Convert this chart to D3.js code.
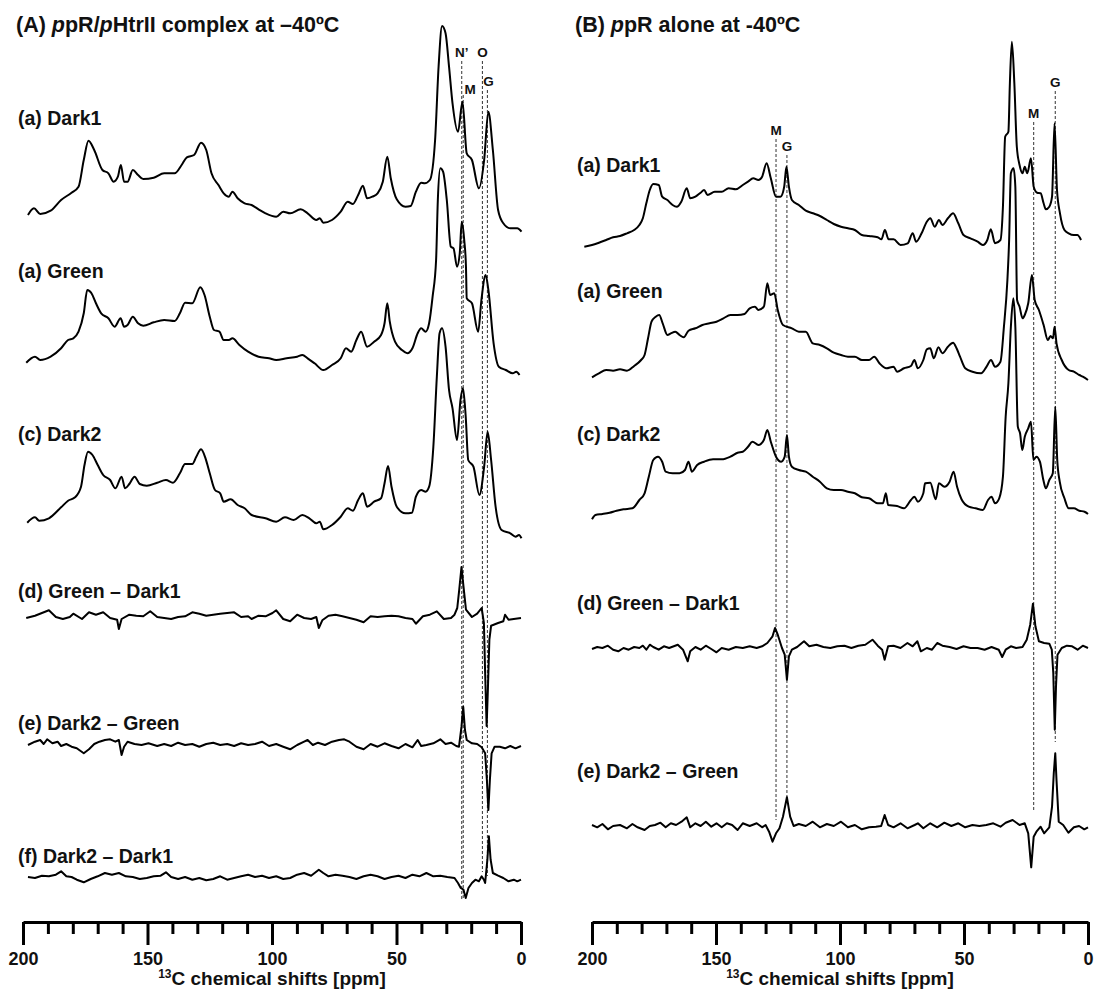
<!DOCTYPE html>
<html><head><meta charset="utf-8">
<script src="https://cdn.jsdelivr.net/npm/d3@7"></script>
<style>
body{margin:0;background:#fff;}
svg{display:block;font-family:"Liberation Sans",Arial,Helvetica,sans-serif;}
</style></head><body>
<svg id="chart" width="1094" height="996"></svg>
<script>
// ---------- DATA: [ppm, intensity] (intensity in arbitrary units, 0 = trace baseline) ----------
const axisTicksMajor = [200, 150, 100, 50, 0];
const axisTicksMinor = [190,180,170,160,140,130,120,110,90,80,70,60,40,30,20,10];

// (A) ppR/pHtrII complex
const complexDark1 = [[198.0,17],[195.6,23.7],[193.1,18],[188.9,21.3],[184.7,32],[180.5,39.3],[177.7,45.3],[175.6,72],[173.7,91.3],[171.4,82],[168.1,62],[165.7,58.7],[163.6,50.3],[161.9,55.3],[160.7,67],[159.4,50.3],[158.0,50.3],[155.9,62],[153.8,57],[151.7,53],[147.5,54.3],[143.3,58.7],[139.1,58.7],[136.3,67],[134.2,74.7],[131.3,77],[128.5,89.3],[126.4,82],[124.3,58.7],[121.5,47],[119.4,38.7],[117.3,35.3],[115.9,40.3],[113.8,33.7],[111.0,28.7],[108.2,27],[105.4,22.7],[102.6,18.7],[98.3,15.3],[95.5,20.3],[92.7,18.7],[88.5,22.7],[85.7,18.7],[82.2,12],[80.8,13.7],[79.4,9.3],[75.9,12],[72.4,20.3],[69.6,30.3],[67.5,28],[65.4,37],[63.5,46.3],[61.8,33.7],[59.7,35.3],[57.6,38.7],[55.5,50.3],[53.7,75.3],[52.3,53.7],[49.9,32.7],[46.4,25.3],[44.3,26],[42.2,40.3],[40.1,49.3],[38.7,48.7],[36.6,52],[34.5,92],[33.1,165.3],[31.7,206],[30.3,198.7],[28.9,165.3],[27.5,128.7],[25.3,100.3],[23.5,130.3],[21.8,78.7],[19.7,72],[16.9,43.7],[14.8,72],[13.1,120.3],[11.3,82],[9.2,22],[7.1,8.7],[4.3,3.7],[1.5,3.7],[-0.2,0.3]];
const complexGreen = [[198.7,12.3],[195.2,18.3],[193.1,15],[188.9,18.3],[184.7,26.7],[181.9,35],[179.8,36.7],[177.7,43.3],[175.6,61.7],[174.2,85],[172.5,81.7],[170.7,71.7],[168.6,61.7],[165.7,56.7],[163.2,48.3],[160.8,56.7],[159.4,48.3],[158.0,50],[155.9,58.3],[153.8,51.7],[151.7,49.3],[147.5,52.7],[143.3,55],[139.1,54],[137.0,61.7],[134.9,72.3],[132.0,71.7],[128.8,87.7],[127.1,80],[125.0,58.3],[123.3,45],[121.1,43.3],[119.4,35],[117.3,35],[115.9,36.7],[113.1,30],[109.6,23.3],[105.4,18.3],[101.2,16.7],[98.3,15],[94.1,16.7],[89.9,18.3],[87.8,20],[85.7,16.7],[82.9,11.7],[79.4,5],[75.9,10],[72.4,16.7],[70.3,26.7],[68.2,23.3],[66.1,35],[64.2,43.3],[61.8,28.3],[59.0,33.3],[56.2,40],[54.8,51.7],[53.7,71.7],[52.7,53.3],[50.6,33.3],[47.8,25],[45.7,21.7],[43.6,26.7],[41.5,41.7],[40.1,46.7],[38.3,43.3],[36.9,51.7],[35.5,78.3],[34.1,115],[33.4,175],[32.4,206.7],[31.3,203.3],[29.8,175],[28.2,128.3],[27.1,126.7],[25.7,108.3],[24.6,121.7],[23.8,153.3],[22.8,135],[22.1,108.3],[21.8,76.7],[19.7,71.7],[17.2,43.3],[15.9,75],[14.2,100],[13.1,85],[11.0,31.7],[8.9,8.3],[6.1,5],[3.3,1.7],[1.9,3.3],[0.6,0]];
const complexDark2 = [[198.3,14.3],[195.2,19.7],[193.5,16.3],[189.6,18.7],[184.7,29.7],[181.9,36.3],[179.1,39.7],[176.7,50.3],[175.3,72],[173.9,85.3],[172.1,82],[170.0,72],[167.8,62],[165.0,57],[162.9,48.7],[160.4,60.3],[159.0,48.7],[157.3,53],[155.2,60.3],[153.1,53],[150.3,51.3],[146.1,54.3],[142.6,57],[139.8,54.3],[137.0,63.7],[134.9,73],[132.0,73],[130.4,80.3],[128.5,87.7],[126.7,78.7],[125.0,63.7],[122.9,47],[120.8,43.7],[119.4,35.3],[116.6,37.7],[113.8,32],[111.0,28.7],[108.2,22],[102.6,18.7],[98.3,15.3],[94.8,19.7],[91.3,17],[87.8,22],[85.0,18.7],[82.2,13.7],[80.8,15.3],[79.4,7.7],[75.9,12],[72.4,20.3],[69.6,28.7],[67.5,26.3],[65.4,37],[63.5,43.7],[61.8,30.3],[59.0,35.3],[56.2,38.7],[54.8,53.7],[53.4,71],[52.0,50.3],[49.9,30.3],[46.4,23.7],[43.8,24.3],[42.2,40.3],[40.1,47],[38.3,45.3],[36.9,50.3],[35.2,90.3],[33.8,160.3],[32.7,203.7],[31.7,208.7],[30.3,190.3],[28.9,147],[27.5,128.7],[25.7,97],[24.3,137],[23.3,148.7],[22.2,120.3],[21.2,77],[19.1,70.3],[16.7,42],[14.8,70.3],[13.4,105.3],[12.0,77],[10.2,30.3],[7.8,7],[4.3,3.7],[2.2,0.3],[0.8,2],[-0.2,-1.3]];
const complexGreenMinusDark1 = [[198.7,0],[195.2,2.3],[192.4,5],[189.6,7.7],[186.8,1],[184.0,-1],[181.2,1],[179.8,4.3],[176.3,-1],[173.5,5.7],[170.7,3.3],[167.8,5.7],[165.0,0],[162.2,-1.7],[161.5,-11],[160.4,-1],[157.3,3.3],[154.5,2.3],[151.7,1.7],[148.9,6.7],[146.1,1],[143.3,0],[140.5,-1],[137.7,1],[134.9,1.7],[132.0,5.7],[129.2,4.3],[126.4,2.3],[123.6,3.3],[120.8,4.3],[118.0,5],[115.2,5.7],[112.4,1],[109.6,1.7],[108.2,-1],[105.4,2.3],[102.6,1.7],[99.8,5],[98.3,7.7],[95.5,-1],[92.7,-3.3],[89.9,3.3],[87.1,0],[84.3,-1],[82.2,1],[81.2,-10],[79.8,-2.3],[77.3,2.3],[74.5,3.3],[71.7,1.7],[68.9,0],[66.1,-1.7],[63.2,-4.3],[60.4,1.7],[57.6,1],[54.8,1.7],[52.0,2.3],[49.2,1.7],[46.4,0],[43.6,-1],[42.2,-5.7],[39.4,1.7],[36.6,3.3],[33.8,6.7],[31.0,-1],[28.1,0],[26.7,3.3],[25.6,10],[24.8,28.3],[23.9,51],[23.1,31.7],[22.1,8.3],[19.7,1],[17.6,4.3],[15.8,10],[14.9,-5],[14.4,-55],[13.8,-108],[13.3,-71.7],[12.7,-21.7],[12.0,-7.7],[9.2,-5],[7.1,-3.3],[6.4,3.3],[5.0,-1.7],[2.9,-1],[0.0,0]];
const complexDark2MinusGreen = [[198.0,0],[195.2,3.3],[193.1,5],[191.7,1],[190.3,5.7],[188.2,1.7],[186.1,3.3],[184.7,-1],[182.6,1],[180.5,-1.7],[178.4,-3.3],[175.6,-8.3],[173.5,-4.3],[171.4,1],[169.3,3.3],[167.1,5],[165.0,5.7],[162.9,3.3],[161.5,5],[160.4,-10],[159.4,-1.7],[158.0,3.3],[155.2,1],[152.4,0],[149.6,1.7],[146.1,-1],[143.3,1],[140.5,-1],[137.7,2.3],[134.9,0],[132.0,1],[129.2,-1.7],[126.4,1],[123.6,2.3],[120.8,0],[118.0,1],[115.2,-1],[112.4,1.7],[109.6,0],[106.8,1],[104.0,3.3],[101.2,-1],[98.3,1],[95.5,-1.7],[92.7,-4.3],[89.9,0],[87.1,3.3],[85.7,5],[83.6,0],[81.5,2.3],[78.7,0],[75.9,3.3],[73.1,5],[71.0,5.7],[68.9,3.3],[66.1,-1.7],[63.2,-4.3],[60.4,1],[57.6,-1.7],[54.8,1.7],[52.0,-1],[49.2,-3.3],[46.4,1],[43.6,-2.3],[41.5,5],[40.1,-1],[38.0,0],[35.2,1.7],[32.4,5.7],[30.3,1],[28.1,2.3],[26.0,-1],[24.9,-1.7],[23.9,18.3],[23.2,38.3],[22.5,15],[21.8,5],[19.7,1.7],[17.6,1],[15.8,-2.3],[14.4,-8.3],[13.7,-35],[13.1,-65],[12.5,-35],[11.8,-8.3],[10.6,-1.7],[8.5,-1.7],[6.4,-3.3],[4.3,-1],[2.2,-3.3],[0.0,-1]];
const complexDark2MinusDark1 = [[198.0,1],[195.2,0],[192.4,2.3],[189.6,1.7],[186.8,3.3],[184.7,6.7],[182.6,1.7],[180.5,1],[178.4,-1.7],[175.6,-4.3],[172.8,-1],[170.0,1.7],[167.1,5],[164.3,3.3],[161.5,5],[158.7,1.7],[155.9,1],[153.1,-1],[150.3,0],[147.5,1.7],[144.7,2.3],[142.6,5.7],[140.5,1],[137.7,-1],[134.9,1],[132.0,-1.7],[129.2,0],[126.4,-2.3],[123.6,-1],[120.8,1.7],[118.0,-1.7],[115.2,0],[112.4,1.7],[109.6,3.3],[106.8,1],[104.0,2.3],[101.2,0],[98.3,1.7],[95.5,-1],[92.7,0],[89.9,3.3],[87.1,5],[84.3,2.3],[81.2,8.3],[79.4,5],[77.3,1.7],[74.5,3.3],[71.7,2.3],[68.9,1],[66.1,-1],[63.2,1.7],[60.4,3.3],[57.6,1.7],[54.8,-1],[52.0,1],[49.2,2.3],[46.4,0],[43.6,3.3],[40.8,1.7],[38.0,5],[35.2,1.7],[32.4,2.3],[29.6,1],[26.7,0],[25.3,-5],[24.2,-10],[23.1,-11.7],[22.2,-20],[21.1,-10],[19.7,-5],[18.3,-1.7],[16.9,-3.3],[15.8,1.7],[14.9,-1.7],[14.4,-5],[13.5,18.3],[12.9,41.7],[12.2,18.3],[11.3,5],[9.2,2.3],[7.1,0],[5.0,-3.3],[2.9,-1.7],[1.5,-3.3],[0.0,-1.7]];

// (B) ppR alone
const aloneDark1 = [[203.1,-6.7],[200.0,-5],[197.2,-2.7],[194.3,0],[191.5,2.7],[188.7,4],[185.9,6.7],[183.0,10],[180.9,15],[179.5,21.7],[178.1,36.7],[176.7,50],[175.3,56],[173.1,55],[171.7,43.3],[169.6,40],[167.5,35],[165.8,33.3],[164.0,38.3],[161.8,51.7],[160.4,41.7],[158.3,43.3],[156.2,47.3],[154.8,50],[153.4,45],[150.5,48.3],[147.7,48.3],[144.9,51.7],[142.0,50.7],[139.2,55],[137.1,58.3],[135.0,61.7],[132.9,60],[131.4,63.3],[129.6,76.7],[127.9,61.7],[125.8,43.3],[124.0,43.3],[122.5,53.3],[121.6,73.3],[120.6,53.3],[119.4,40],[116.6,35],[113.8,29.3],[110.9,26.7],[108.1,24],[105.3,20],[102.5,16],[99.6,13.3],[96.8,11.7],[94.0,10],[91.2,5],[88.3,4],[84.8,2.7],[83.3,0.7],[81.9,10],[80.4,0.7],[78.4,0.7],[75.6,-5],[72.7,-3.3],[70.7,6.7],[69.3,-1.7],[67.1,6.7],[65.0,18.3],[63.6,21.7],[61.8,13.3],[60.1,20],[58.7,15],[56.5,21.7],[54.4,26.7],[52.3,16.7],[50.2,5],[47.4,1.7],[44.5,-1.7],[42.4,-5],[40.6,0],[39.2,10.7],[37.5,-3.3],[35.3,0],[34.3,33.3],[33.4,103.3],[32.1,108.3],[31.5,156.7],[30.7,198.3],[29.7,156.7],[28.7,93.3],[27.6,75],[26.4,66.7],[25.5,73.3],[24.5,66.7],[23.0,81.7],[21.9,53.3],[20.5,47.3],[19.1,46.7],[17.9,36.7],[17.0,30.7],[15.6,33.3],[14.5,43.3],[13.5,116.7],[12.5,50],[11.3,26.7],[9.5,10],[7.8,6.7],[5.7,5],[4.3,5],[2.8,0]];
const aloneGreen = [[200.0,2.7],[197.2,6.7],[194.3,10],[191.5,9.3],[188.7,10.7],[185.9,9.3],[183.0,14],[180.2,20],[178.8,25],[177.4,41.7],[176.0,58.3],[174.3,63.3],[172.9,65],[171.5,56.7],[169.6,45],[168.2,46.7],[166.4,48.3],[164.7,45],[163.0,42.7],[161.1,49.3],[158.3,51.7],[155.5,55],[152.6,56.7],[149.8,58.3],[147.0,61.7],[144.2,65],[141.3,65],[138.5,66],[136.4,71.7],[134.3,73.3],[132.9,70],[130.7,73.3],[129.3,96.7],[128.2,85],[126.5,86.7],[125.1,70],[123.0,55],[119.4,51.7],[116.6,48.3],[113.8,48.3],[111.0,36.7],[108.1,35],[105.3,31.7],[102.5,27.3],[99.6,25],[96.8,23.3],[94.0,23.3],[91.2,20],[88.3,20],[86.2,23.3],[84.1,16.7],[81.3,11.7],[78.4,13.3],[77.0,8.3],[74.2,11.7],[71.4,14],[70.0,20],[68.6,11.7],[66.4,20],[65.0,30.7],[63.6,31.7],[62.2,21.7],[60.3,32.7],[58.7,26.7],[56.5,33.3],[54.4,37.3],[53.0,31.7],[51.6,23.3],[49.5,11.7],[46.6,8.3],[43.1,6.7],[40.9,13.3],[39.1,20],[37.5,13.3],[35.3,18.3],[33.9,53.3],[32.5,100],[31.8,140],[31.1,206.7],[30.0,211.7],[29.3,193.3],[28.6,80],[27.6,73.3],[26.4,61.7],[25.5,65],[24.1,76.7],[22.6,105],[21.5,80],[19.8,70],[17.9,55],[16.2,40],[15.1,44],[14.1,41.7],[13.5,53.3],[12.7,36.7],[10.6,20],[7.8,10],[5.7,8.3],[3.5,5],[2.1,3.3],[0,0]];
const aloneDark2 = [[200.0,-5.3],[198.6,-1],[195.8,0],[192.9,1.3],[190.1,3.3],[187.3,4.7],[183.7,5.7],[180.9,14],[178.8,20.7],[177.1,37.3],[175.3,54],[173.4,57.3],[171.7,52.3],[170.3,42.3],[167.5,40.7],[164.7,40.7],[162.5,44],[161.1,52.3],[159.7,42.3],[157.6,49],[154.8,52.3],[151.2,54.7],[147.7,54.7],[144.2,57.3],[141.3,61.3],[139.2,62.3],[137.1,67.3],[135.3,72.3],[132.9,69],[130.7,74],[129.3,84],[127.9,72.3],[125.8,57.3],[123.7,52.3],[122.3,57.3],[121.4,79],[120.6,57.3],[119.4,47.3],[116.6,44],[113.8,42.3],[111.0,37.3],[108.1,32.3],[105.3,25.7],[102.5,24],[99.6,24],[96.8,22.3],[94.0,20.7],[91.2,16.7],[88.3,15.7],[84.8,10.7],[82.7,10.7],[81.5,20.7],[80.6,9],[77.0,8],[74.2,5.7],[71.4,14],[70.0,17.3],[68.6,12.3],[66.4,20.7],[65.7,30.7],[63.6,31.3],[61.4,14.7],[60.1,30.7],[57.9,27.3],[55.8,32.3],[54.2,42.3],[52.8,27.3],[51.0,14.7],[48.1,7.3],[45.3,5.7],[42.4,4],[40.3,14],[38.9,17.3],[37.5,10.7],[35.8,15.7],[34.3,37.3],[33.2,97.3],[32.1,130.7],[31.1,187.3],[30.1,215.7],[29.3,187.3],[28.3,87.3],[27.4,80.7],[26.5,64],[25.5,77.3],[24.1,85.7],[23.0,92.3],[22.0,54],[20.8,57.3],[19.4,52.3],[18.0,34],[17.0,25.7],[15.6,34],[14.2,40.7],[13.2,107.3],[12.4,54],[11.4,32.3],[9.5,15.7],[7.8,5.7],[5.7,5.7],[3.5,3.3],[1.4,2.3],[0,0]];
const aloneGreenMinusDark1 = [[200.0,-1],[197.9,1],[195.8,0],[193.6,2.3],[191.5,-1.7],[189.4,-3.3],[187.3,0],[185.2,-1.7],[183.0,1],[180.9,0],[179.5,2.3],[178.1,-1.7],[176.7,3.3],[175.3,1],[173.1,-1.7],[171.0,1.7],[168.9,0],[165.4,3.3],[163.3,-1.7],[161.4,-13.3],[160.4,-3.3],[158.3,1],[156.2,-1.7],[154.1,2.3],[151.9,-1],[149.8,-4.3],[147.7,0],[144.9,-1.7],[142.0,1],[139.2,0],[136.4,1.7],[133.6,0],[131.4,1.7],[129.3,5],[127.2,11.7],[126.2,20],[125.1,13.3],[123.4,0],[122.3,-6.7],[121.4,-31.7],[120.6,-8.3],[119.4,-1.7],[117.3,1],[114.5,6.7],[112.4,1.7],[109.5,3.3],[106.7,1],[103.9,0],[101.1,1.7],[98.2,2.3],[95.4,0],[92.6,2.3],[89.8,3.3],[86.9,8.3],[84.8,2.3],[83.0,-1.7],[82.0,-11.7],[80.6,1.7],[78.4,2.3],[75.6,0],[72.8,5],[70.7,1.7],[68.8,6.7],[67.4,-3.3],[65.0,0],[62.9,-1.7],[60.8,5],[58.7,2.3],[55.8,1],[53.0,-1],[50.2,1.7],[47.4,0],[44.5,0],[41.7,-1.7],[38.9,1],[36.0,-1.7],[34.6,-9],[33.2,-1.7],[31.1,1.7],[29.0,0],[26.4,1],[24.7,8.3],[23.3,23.3],[22.2,44.3],[21.2,21.7],[19.8,6.7],[17.7,5],[15.6,4.3],[14.6,-1.7],[14.0,-25],[13.4,-81.7],[12.9,-38.3],[12.3,-6.7],[10.6,0],[8.5,2.3],[6.4,1.7],[4.2,-1.7],[2.1,2.3],[0.0,0]];
const aloneDark2MinusGreen = [[200.0,1],[197.9,-1.3],[195.8,2],[193.6,-3.3],[191.5,0],[188.7,1],[185.9,-2.3],[183.7,2],[181.6,-1.3],[178.8,-4],[176.7,0],[174.6,1],[172.4,3.3],[170.3,-1.3],[168.2,2.7],[166.1,1],[163.9,4.3],[161.8,8.7],[160.4,-1.3],[158.3,2.7],[156.2,0],[154.1,4.3],[151.9,-0.7],[149.8,2.7],[147.7,-1.3],[145.6,2.7],[143.5,1],[141.3,-4],[139.2,2.7],[136.4,0],[133.6,2.7],[131.4,-1.3],[130.0,1],[128.6,-5.7],[127.2,-15.7],[125.8,-7.3],[124.4,-2.3],[123.0,9.3],[121.4,28.7],[120.1,9.3],[118.7,0],[116.6,2],[113.8,0],[111.0,4.3],[108.1,-1.3],[105.3,2],[102.5,0],[99.6,4.3],[96.8,-1.3],[94.0,1],[91.2,-3.3],[88.3,-1.3],[85.5,-0.7],[83.4,0],[82.0,11],[80.6,1],[78.4,-1.3],[75.6,2.7],[72.8,-2.3],[69.9,1],[68.6,2.7],[66.4,-2.3],[63.6,2.7],[60.8,-1.3],[57.9,3.3],[55.1,0],[52.3,2.7],[49.5,-1.3],[46.6,1],[43.8,0],[41.0,1],[38.2,2.7],[35.3,-0.7],[33.2,3.3],[30.4,6],[27.6,1],[25.5,2.7],[24.1,-7.3],[22.9,-41.3],[21.9,-10.7],[20.8,-5.7],[19.1,-0.7],[17.7,-7.3],[15.6,-1.3],[14.5,19.3],[13.8,52.7],[13.2,72.7],[12.7,46],[11.8,4.3],[10.0,1],[7.9,-6.7],[5.7,-1.3],[3.6,0],[1.5,-3.3],[0.0,-1.3]];

// Assignment marker positions (ppm)
const complexMarkers = [["N’",23.8],["M",23.2],["O",15.5],["G",13.5]];
const aloneMarkers = [["M",125.8],["G",121.4],["M",21.9],["G",13.2]];

// ---------- LAYOUT ----------
const svg = d3.select("#chart");
const FONT = '"Liberation Sans",Arial,Helvetica,sans-serif';
const AXIS_Y = 922;

const panels = [
  {
    range:[23,521], titleX:16, titleParts:[["(A) ",false],["p",true],["pR/",false],["p",true],["HtrII complex at –40ºC",false]],
    traces:[
      {data:complexDark1, base:232, label:"(a) Dark1", ly:125, diff:false},
      {data:complexGreen, base:375, label:"(a) Green", ly:278, diff:false},
      {data:complexDark2, base:537, label:"(c) Dark2", ly:441, diff:false},
      {data:complexGreenMinusDark1, base:618, label:"(d) Green – Dark1", ly:598, diff:true},
      {data:complexDark2MinusGreen, base:745, label:"(e) Dark2 – Green", ly:730, diff:true},
      {data:complexDark2MinusDark1, base:878, label:"(f) Dark2 – Dark1", ly:863, diff:true}
    ],
    labelX:18,
    markers:[
      {m:complexMarkers[0], top:61, bottom:900, lx:0, ly:57},
      {m:complexMarkers[1], top:95, bottom:900, lx:7, ly:94},
      {m:complexMarkers[2], top:61, bottom:872, lx:0, ly:57},
      {m:complexMarkers[3], top:90, bottom:876, lx:1, ly:86}
    ]
  },
  {
    range:[592,1088], titleX:575, titleParts:[["(B) ",false],["p",true],["pR alone at -40ºC",false]],
    traces:[
      {data:aloneDark1, base:240, label:"(a) Dark1", ly:172, diff:false},
      {data:aloneGreen, base:380, label:"(a) Green", ly:298, diff:false},
      {data:aloneDark2, base:514, label:"(c) Dark2", ly:441, diff:false},
      {data:aloneGreenMinusDark1, base:648, label:"(d) Green – Dark1", ly:610, diff:true},
      {data:aloneDark2MinusGreen, base:826, label:"(e) Dark2 – Green", ly:778, diff:true}
    ],
    labelX:577,
    markers:[
      {m:aloneMarkers[0], top:139, bottom:820, lx:0, ly:135},
      {m:aloneMarkers[1], top:155, bottom:800, lx:0, ly:151},
      {m:aloneMarkers[2], top:122, bottom:810, lx:0, ly:118},
      {m:aloneMarkers[3], top:91, bottom:742, lx:0, ly:87}
    ]
  }
];

panels.forEach(p => {
  const x = d3.scaleLinear().domain([200,0]).range(p.range);
  const g = svg.append("g");

  // title
  const t = g.append("text").attr("x", p.titleX).attr("y", 32)
    .attr("font-size", 21.5).attr("font-weight", "bold").attr("fill", "#111");
  p.titleParts.forEach(([s, it]) => t.append("tspan").text(s).attr("font-style", it ? "italic" : "normal"));

  // dashed marker lines
  p.markers.forEach(mk => {
    const xm = x(mk.m[1]);
    g.append("line").attr("x1", xm).attr("x2", xm).attr("y1", mk.top).attr("y2", mk.bottom)
      .attr("stroke", "#333").attr("stroke-width", 1).attr("stroke-dasharray", "3,2");
    g.append("text").attr("x", xm + mk.lx).attr("y", mk.ly).attr("text-anchor", "middle")
      .attr("font-size", 13.5).attr("font-weight", "bold").attr("fill", "#111").text(mk.m[0]);
  });

  // traces
  p.traces.forEach(tr => {
    const y = d3.scaleLinear().domain([0, 100]).range([tr.base, tr.base - 100]);
    const line = d3.line().x(d => x(d[0])).y(d => y(d[1]))
      .curve(tr.diff ? d3.curveLinear : d3.curveMonotoneX);
    g.append("path").datum(tr.data).attr("d", line)
      .attr("fill", "none").attr("stroke", "#000").attr("stroke-width", 2).attr("stroke-linejoin", "round");
    g.append("text").attr("x", p.labelX).attr("y", tr.ly)
      .attr("font-size", 19.5).attr("font-weight", "bold").attr("fill", "#111").text(tr.label);
  });

  // axis: minor ticks
  const minor = d3.axisBottom(x).tickValues(axisTicksMinor).tickSize(12).tickSizeOuter(0).tickFormat("");
  const gMinor = g.append("g").attr("transform", `translate(0,${AXIS_Y})`).call(minor);
  gMinor.select(".domain").remove();
  gMinor.selectAll("line").attr("stroke", "#000").attr("stroke-width", 3);

  // axis: major ticks + labels
  const major = d3.axisBottom(x).tickValues(axisTicksMajor).tickSize(23).tickSizeOuter(0).tickPadding(7)
    .tickFormat(d3.format("d"));
  const gMajor = g.append("g").attr("transform", `translate(0,${AXIS_Y})`).call(major);
  gMajor.select(".domain").attr("stroke", "#000").attr("stroke-width", 3);
  gMajor.selectAll("line").attr("stroke", "#000").attr("stroke-width", 3);
  gMajor.selectAll("text").attr("font-size", 18).attr("font-weight", "bold")
    .attr("font-family", FONT).attr("fill", "#111");

  // axis title
  const cx = (p.range[0] + p.range[1]) / 2;
  const at = g.append("text").attr("x", cx).attr("y", 985).attr("text-anchor", "middle")
    .attr("font-size", 19).attr("font-weight", "bold").attr("fill", "#111");
  at.append("tspan").text("13").attr("font-size", 12).attr("dy", -7);
  at.append("tspan").text("C chemical shifts [ppm]").attr("dy", 7);
});
</script>
</body></html>
